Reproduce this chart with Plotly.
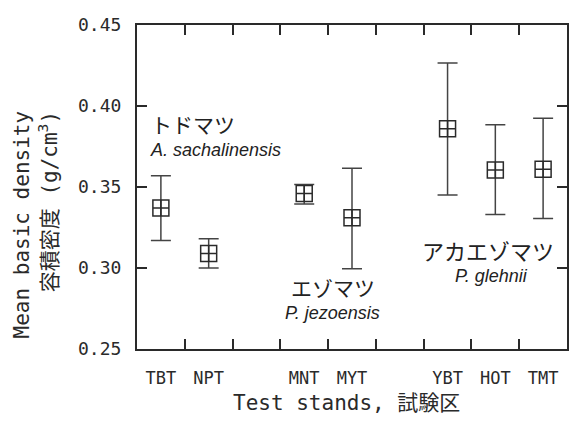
import plotly.graph_objects as go

# ---- data ----
x_categories = ["TBT", "NPT", " ", "MNT", "MYT", "  ", "YBT", "HOT", "TMT"]
stands = ["TBT", "NPT", "MNT", "MYT", "YBT", "HOT", "TMT"]
mean_density = [0.337, 0.309, 0.346, 0.331, 0.386, 0.3605, 0.361]
upper = [0.357, 0.318, 0.3515, 0.3615, 0.4265, 0.3885, 0.3925]
lower = [0.317, 0.300, 0.3395, 0.2995, 0.345, 0.333, 0.3305]
y_ticks = [0.25, 0.30, 0.35, 0.40, 0.45]

err_plus = [u - m for u, m in zip(upper, mean_density)]
err_minus = [m - l for m, l in zip(mean_density, lower)]

W, H = 571, 427
L, R, T, B = 137, 2, 25, 78
pw, ph = W - L - R, H - T - B


def px(x):
    return (x - L) / pw


def py(y):
    return (H - B - y) / ph


mono = "DejaVu Sans Mono, Noto Sans CJK JP"
jp = "Noto Sans CJK JP"
ink = "#2a2a2a"

fig = go.Figure()
fig.add_trace(go.Scatter(
    x=stands, y=mean_density, mode="markers",
    marker=dict(symbol="square-cross-open", size=16, color=ink,
                line=dict(width=1.5, color=ink)),
    error_y=dict(type="data", symmetric=False, array=err_plus,
                 arrayminus=err_minus, width=10, thickness=1.5, color="#444"),
    showlegend=False,
))

fig.update_layout(
    width=W, height=H,
    margin=dict(l=L, r=R, t=T, b=B),
    paper_bgcolor="white", plot_bgcolor="white",
    xaxis=dict(
        type="category", categoryorder="array", categoryarray=x_categories,
        tickvals=x_categories, ticktext=x_categories,
        range=[-0.5, len(x_categories) - 0.5],
        tickson="boundaries", ticks="inside", ticklen=10, tickwidth=2,
        tickcolor=ink, showline=True, linewidth=2, linecolor=ink,
        mirror="ticks", showgrid=False, zeroline=False,
        tickfont=dict(family=mono, size=17, color=ink),
        ticklabelstandoff=13,
    ),
    yaxis=dict(
        range=[0.25, 0.45], tickvals=y_ticks, tickformat=".2f",
        ticks="inside", ticklen=10, tickwidth=2, tickcolor=ink,
        showline=True, linewidth=2, linecolor=ink, mirror="ticks",
        showgrid=False, zeroline=False,
        tickfont=dict(family=mono, size=18, color=ink),
        ticklabelstandoff=10,
    ),
)

ann = [
    # axis titles
    dict(text="Test stands, 試験区", x=px(347), y=py(403),
         font=dict(family=mono, size=21, color=ink)),
    dict(text="Mean basic density<br>容積密度 (g/cm<sup>3</sup>)",
         x=px(35), y=py(224), textangle=-90, align="right",
         font=dict(family=mono, size=21, color=ink)),
    # species labels
    dict(text="トドマツ", x=px(193), y=py(124),
         font=dict(family=jp, size=21, color="#222")),
    dict(text="<i>A. sachalinensis</i>", x=px(216), y=py(150),
         font=dict(family="Liberation Sans", size=18, color="#222")),
    dict(text="エゾマツ", x=px(334), y=py(287),
         font=dict(family=jp, size=21, color="#222")),
    dict(text="<i>P. jezoensis</i>", x=px(333), y=py(313),
         font=dict(family="Liberation Sans", size=18, color="#222")),
    dict(text="アカエゾマツ", x=px(490), y=py(250),
         font=dict(family=jp, size=22, color="#222")),
    dict(text="<i>P. glehnii</i>", x=px(493), y=py(276),
         font=dict(family="Liberation Sans", size=18, color="#222")),
]
for a in ann:
    fig.add_annotation(xref="paper", yref="paper", showarrow=False,
                       xanchor="center", yanchor="middle", **a)

fig.write_html("out.html")
